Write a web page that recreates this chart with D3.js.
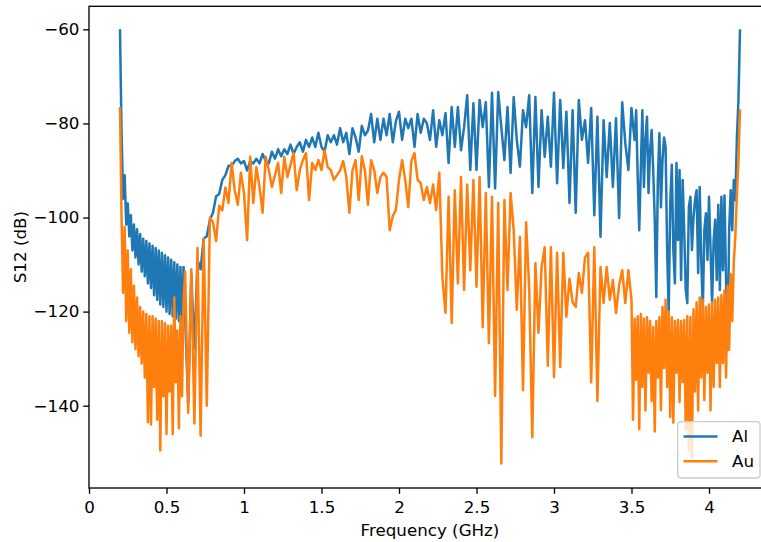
<!DOCTYPE html>
<html>
<head>
<meta charset="utf-8">
<script src="https://cdn.jsdelivr.net/npm/d3@7"></script>
<style>
  body { margin:0; background:#fff; }
  svg { display:block; font-family:"DejaVu Sans", sans-serif; }
</style>
</head>
<body>
<script>
// frequency points (GHz), shared by both traces
// (finer spacing where the traces are dense)
const freqGHz = [
  0.2,0.21,0.22,0.23,0.24,0.25,0.26,0.27,0.28,0.29,
  0.3,0.31,0.32,0.33,0.34,0.35,0.36,0.37,0.38,0.39,
  0.4,0.41,0.42,0.43,0.44,0.45,0.46,0.47,0.48,0.49,
  0.5,0.51,0.52,0.53,0.54,0.55,0.56,0.57,0.58,0.59,
  0.6,0.61,0.62,
  0.64,0.66,0.68,0.7,0.72,0.74,0.76,0.78,
  0.8,0.82,0.84,0.86,0.88,0.9,0.92,0.94,0.96,0.98,
  1,1.02,1.04,1.06,1.08,1.1,1.12,1.14,1.16,1.18,
  1.2,1.22,1.24,1.26,1.28,1.3,1.32,1.34,1.36,1.38,
  1.4,1.42,1.44,1.46,1.48,1.5,1.52,1.54,1.56,1.58,
  1.6,1.62,1.64,1.66,1.68,1.7,1.72,1.74,1.76,1.78,
  1.8,1.82,1.84,1.86,1.88,1.9,1.92,1.94,1.96,1.98,
  2,2.02,2.04,2.06,2.08,2.1,2.12,2.14,2.16,2.18,
  2.2,2.22,2.24,2.26,2.28,2.3,2.32,2.34,2.36,2.38,
  2.4,2.42,2.44,2.46,2.48,2.5,2.52,2.54,2.56,2.58,
  2.6,2.62,2.64,2.66,2.68,2.7,2.72,2.74,2.76,2.78,
  2.8,2.82,2.84,2.86,2.88,2.9,2.92,2.94,2.96,2.98,
  3,3.02,3.04,3.06,3.08,3.1,3.12,3.14,3.16,3.18,
  3.2,3.22,3.24,3.26,3.28,3.3,3.32,3.34,3.36,3.38,
  3.4,3.42,3.44,3.46,3.48,
  3.5,3.51,3.52,3.53,3.54,3.55,3.56,3.57,3.58,3.59,
  3.6,3.61,3.62,3.63,3.64,3.65,3.66,3.67,3.68,3.69,
  3.7,3.71,3.72,3.73,3.74,3.75,3.76,3.77,3.78,3.79,
  3.8,3.81,3.82,3.83,3.84,3.85,3.86,3.87,3.88,3.89,
  3.9,3.91,3.92,3.93,3.94,3.95,3.96,3.97,3.98,3.99,
  4,4.01,4.02,4.03,4.04,4.05,4.06,4.07,4.08,4.09,
  4.1,4.11,4.12,4.13,4.14,4.15,4.16,4.17,4.18,4.19,
  4.2
];

// S12 of the Al sample (dB)
const s12Al = [
  -60,-82,-96,-91,-101.5,-97,-104,-99.5,-107,-101.5,
  -108.5,-102.5,-110,-103.5,-111.5,-104.5,-112.5,-105,-114,-105.5,
  -115,-106,-116.5,-106.5,-117.5,-107,-118.5,-107.5,-119,-108,
  -120,-108.5,-120.5,-109,-121,-109.5,-121.5,-110,-122,-110.5,
  -123,-110.5,-121,
  -139.5,-112,-128,-109,-111,-104.5,-104,-100.5,
  -99,-95.5,-95,-92,-91,-89,-89,-88,-87.5,-88.5,
  -88,-90,-88,-88.5,-87.5,-88.5,-86.5,-88,-88.5,-86,
  -87.5,-85.5,-87,-85.5,-86.5,-84.5,-86.5,-85,-84,-86,
  -83.5,-85,-83,-85,-82,-85,-86,-82.5,-84,-82.5,
  -84.5,-81,-84,-82,-86.5,-81,-83,-86,-80.5,-82.5,
  -81.5,-78,-84,-79,-83.5,-79,-82.5,-78,-84,-79.5,
  -77.5,-83.5,-79,-81,-79,-85,-78,-82,-79,-80,
  -83.5,-77.2,-85,-79.3,-82.5,-77.8,-88.4,-76.5,-85,-76.5,
  -85.7,-80.8,-74,-89.9,-75.7,-89.9,-75,-80.8,-75.5,-93.5,
  -73.5,-93.8,-73.3,-80.8,-87.8,-76.5,-90.5,-74.4,-83.5,-89.2,
  -77.2,-80.8,-74,-94.8,-74.4,-93.5,-77.2,-87.1,-78.6,-89.2,
  -73.5,-92.7,-75,-89.5,-77.5,-96.9,-77.2,-99,-75,-83.5,
  -79.3,-88.4,-76.7,-99.5,-78.6,-104.1,-79.3,-91.4,-79.9,-93.5,
  -78.9,-100.1,-75.5,-84.2,-89.9,
  -76.7,-80.4,-83.5,-77.2,-91.4,-102.7,-89.9,-77.2,-93.5,-83.5,
  -78.6,-94.8,-85.7,-81.4,-89.9,-100.5,-116.9,-92,-82.1,-97.8,
  -87.8,-83,-85,-106.9,-120.3,-97,-88.8,-106.9,-114,-88.4,
  -104.8,-89.9,-113.3,-92,-102.7,-115.4,-118.2,-97.8,-95.6,-106.9,
  -100,-96.3,-94.2,-111.8,-93.5,-109,-119.7,-102.7,-99.1,-109,
  -95.6,-106.9,-118.2,-104.8,-100.5,-113.3,-97.3,-115.4,-95.6,-111.2,
  -95.3,-113.3,-128.1,-102.7,-94.2,-102.7,-92,-96.3,-83,-75,
  -60
];

// S12 of the Au sample (dB)
const s12Au = [
  -76.5,-100,-116,-102,-122,-107,-124.5,-111,-126.5,-114.5,
  -128,-117,-129.5,-119,-131,-120,-134,-120.5,-143.5,-121,
  -144,-121,-136,-121.5,-143,-122,-149.5,-122,-138,-122.5,
  -146,-123,-137,-123,-146,-117,-135,-124,-144.8,-121,
  -138,-118,-111.5,
  -141.5,-111,-143.8,-106.5,-146.4,-104.5,-140,-100,
  -101,-105,-97.5,-98.5,-93.6,-96.9,-88.4,-94.2,-97.3,-90.5,
  -94.8,-104.8,-87.1,-96.9,-89.3,-93.5,-99,-87.1,-89.9,-93.5,
  -91,-88.4,-94.8,-87.1,-91.4,-88.8,-86.3,-94.2,-89.9,-87.8,
  -86.3,-96.3,-88.4,-89.9,-87.8,-89.9,-85.7,-89.3,-89.9,-92,
  -91,-90,-88,-91.4,-99,-89.9,-87.8,-96.3,-87,-90,
  -97.3,-87.8,-89.9,-94.8,-91.4,-90.5,-91.4,-102.7,-99.7,-98.4,
  -92,-87.8,-92,-97.8,-88,-86.3,-92,-92.7,-96.3,-93.5,
  -96.9,-93,-98.4,-90.5,-112.7,-120.3,-95.6,-122.4,-94.2,-114,
  -91.4,-115.4,-93,-111.2,-92,-114.7,-91.4,-123.3,-94.8,-126.7,
  -95.6,-137.9,-96.9,-152.3,-96.3,-115.4,-94.8,-102.7,-119.6,-104.1,
  -136.7,-101,-115,-146.7,-109.7,-124.5,-110.5,-106.3,-131.5,-106.3,
  -133.9,-107.5,-131.8,-107.5,-121.1,-113,-118,-119,-111.8,-116,
  -108.5,-107.5,-135,-106.3,-139,-110.5,-118.2,-110.5,-117.5,-113.3,
  -120.3,-114.4,-111.2,-118.2,-111.2,
  -117.5,-143,-121.5,-134.5,-121,-145,-120.5,-136,-121.5,-141,
  -121.2,-133,-122,-139,-123.3,-145.5,-122,-134,-121.2,-140.9,
  -119,-132,-117.5,-136,-120,-142.4,-121.2,-143.6,-122,-133,
  -121.8,-139.2,-122,-135,-121.8,-145.1,-121,-149.5,-121.2,-151,
  -119.5,-137,-118,-141,-117,-134,-117.5,-138.8,-119,-133,
  -118.5,-141,-118,-136,-117.5,-131,-117,-136,-116.5,-131,
  -115.5,-134,-114.5,-128.1,-112,-122,-109.5,-104,-95,-88,
  -77
];

const seriesNames = ["Al", "Au"];
const seriesColors = ["#1f77b4", "#ff7f0e"];
const xTicks = [0, 0.5, 1, 1.5, 2, 2.5, 3, 3.5, 4];
const yTicks = [-140, -120, -100, -80, -60];

const width = 761, height = 542;
const plot = { left: 89, right: 771, top: 6.3, bottom: 488 };
const fontSize = 16.7;

const svg = d3.select("body").append("svg")
  .attr("width", width).attr("height", height)
  .attr("viewBox", [0, 0, width, height]);

svg.append("rect").attr("width", width).attr("height", height).attr("fill", "#fff");

//scales: x starts at 0, y is autoscaled with a 5% margin
const x = d3.scaleLinear().domain([0, 4.4]).range([plot.left, plot.right]);
const y = d3.scaleLinear().domain([-157.5, -55.1]).range([plot.bottom, plot.top]);

//clip the traces to the axes box
svg.append("clipPath").attr("id", "clip")
  .append("rect")
  .attr("x", plot.left).attr("y", plot.top)
  .attr("width", plot.right - plot.left).attr("height", plot.bottom - plot.top);

const line = d3.line()
  .x((d, i) => x(freqGHz[i]))
  .y(d => y(d));

//Al first, Au drawn on top of it
const traces = [s12Al, s12Au];
svg.append("g").attr("clip-path", "url(#clip)")
  .selectAll("path").data(traces).join("path")
  .attr("d", d => line(d))
  .attr("fill", "none")
  .attr("stroke", (d, i) => seriesColors[i])
  .attr("stroke-width", 2.5)
  .attr("stroke-linejoin", "round");

//axes, minus sign like matplotlib
const fmt = d => d < 0 ? "\u2212" + Math.abs(d) : String(d);

const xAxis = svg.append("g")
  .attr("transform", `translate(0,${plot.bottom})`)
  .call(d3.axisBottom(x).tickValues(xTicks).tickFormat(fmt)
    .tickSize(5.8).tickPadding(7.6).tickSizeOuter(0));

const yAxis = svg.append("g")
  .attr("transform", `translate(${plot.left},0)`)
  .call(d3.axisLeft(y).tickValues(yTicks).tickFormat(fmt)
    .tickSize(5.8).tickPadding(3.8).tickSizeOuter(0));

[xAxis, yAxis].forEach(g => {
  g.select(".domain").remove();
  g.selectAll("line").attr("stroke", "#000").attr("stroke-width", 1.33);
  g.selectAll("text")
    .attr("fill", "#000")
    .style("font-family", "DejaVu Sans")
    .style("font-size", fontSize + "px");
});

//spines
svg.append("rect")
  .attr("x", plot.left).attr("y", plot.top)
  .attr("width", plot.right - plot.left).attr("height", plot.bottom - plot.top)
  .attr("fill", "none").attr("stroke", "#000").attr("stroke-width", 1.33);

//axis labels
svg.append("text")
  .attr("x", (plot.left + plot.right) / 2).attr("y", 536)
  .attr("text-anchor", "middle")
  .style("font-size", fontSize + "px")
  .text("Frequency (GHz)");

svg.append("text")
  .attr("transform", `translate(25.5,${(plot.top + plot.bottom) / 2}) rotate(-90)`)
  .attr("text-anchor", "middle")
  .style("font-size", fontSize + "px")
  .text("S12 (dB)");

//legend, lower right
const legend = svg.append("g");
legend.append("rect")
  .attr("x", 677.7).attr("y", 421.7)
  .attr("width", 82.3).attr("height", 56.3)
  .attr("rx", 3.3)
  .attr("fill", "#fff").attr("fill-opacity", 0.8)
  .attr("stroke", "#cccccc").attr("stroke-width", 1.33);

const items = legend.selectAll("g.item").data(seriesNames).join("g")
  .attr("class", "item")
  .attr("transform", (d, i) => `translate(0,${436.5 + i * 24.8})`);

items.append("line")
  .attr("x1", 683.5).attr("x2", 717.5)
  .attr("stroke", (d, i) => seriesColors[i])
  .attr("stroke-width", 2.5);

items.append("text")
  .attr("x", 732).attr("dy", "0.35em")
  .style("font-size", fontSize + "px")
  .text(d => d);
</script>
</body>
</html>
